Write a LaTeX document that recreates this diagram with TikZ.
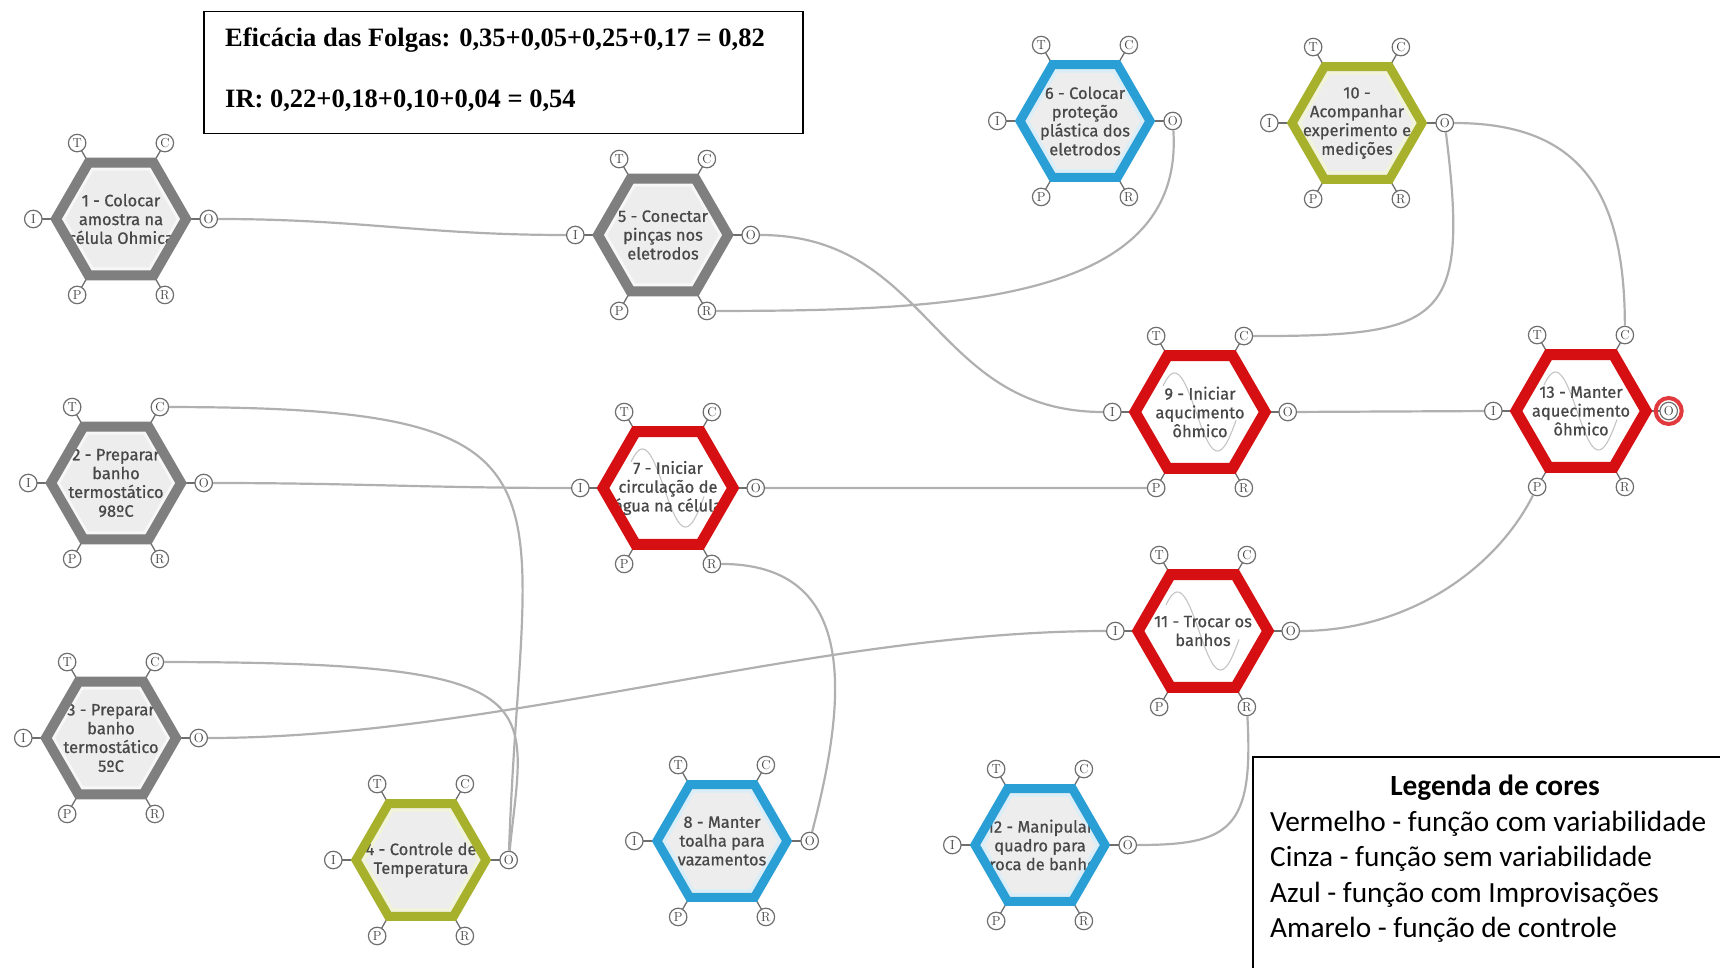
\documentclass[tikz,border=0pt]{standalone}
\usepackage{fontspec}
\newfontfamily\hexfont[FakeBold=0.7]{Fira Sans}
\newfontfamily\boxfont{Liberation Serif}
\newfontfamily\legendfont{Carlito}

\definecolor{cGrayLine}{HTML}{7F7F7F}
\definecolor{cGrayFill}{HTML}{EDEDED}
\definecolor{cGrayBand}{HTML}{F7F7F7}
\definecolor{cRedLine}{HTML}{D50F12}
\definecolor{cBlueLine}{HTML}{2A9FD6}
\definecolor{cBlueBand}{HTML}{D9EEF8}
\definecolor{cOliveLine}{HTML}{A8B12C}
\definecolor{cOliveBand}{HTML}{F2F4D8}
\definecolor{cConn}{HTML}{B0B0B0}
\definecolor{cText}{HTML}{484848}
\definecolor{cPort}{HTML}{6E6E6E}
\definecolor{cWave}{HTML}{C4C4C4}
\definecolor{cRing}{HTML}{E0393E}

\tikzset{
  gray-fill/.style={fill=cGrayFill},
  gray-band/.style={draw=cGrayBand, line width=3pt},
  gray-line/.style={draw=cGrayLine, line width=10pt, line join=miter},
  gray-wave/.style={},
  red-fill/.style={fill=white},
  red-band/.style={},
  red-line/.style={draw=cRedLine, line width=11pt, line join=miter},
  red-wave/.style={draw=cWave, line width=1.1pt},
  blue-fill/.style={fill=cGrayFill},
  blue-band/.style={draw=cBlueBand, line width=3pt},
  blue-line/.style={draw=cBlueLine, line width=9pt, line join=miter},
  blue-wave/.style={},
  olive-fill/.style={fill=cGrayFill},
  olive-band/.style={draw=cOliveBand, line width=3pt},
  olive-line/.style={draw=cOliveLine, line width=9pt, line join=miter},
  olive-wave/.style={},
  hextext/.style={align=center, inner sep=0pt, text=cText,
    font=\hexfont\fontsize{16.5}{18.8}\selectfont},
  portc/.style={circle, draw=cPort, fill=white, line width=1.2pt,
    minimum size=17.5pt, inner sep=0pt, text=black!75,
    font=\rmfamily\fontsize{13}{13}\selectfont},
  stubline/.style={draw=cPort, line width=1.3pt},
  conn/.style={draw=cConn, line width=2.2pt},
  boxtext/.style={anchor=west, inner sep=0pt,
    font=\boxfont\bfseries\fontsize{26.5}{30}\selectfont},
  legline/.style={anchor=west, inner sep=0pt,
    font=\legendfont\fontsize{29.3}{34}\selectfont},
}

% One function hexagon: name, x, y (pixels from top left), colour kind, label
\newcommand\fnhex[5]{%
  \begin{scope}[shift={(#2,-#3)}]
    \path[#4-fill] (0:65) -- (60:65) -- (120:65) -- (180:65) -- (240:65) -- (300:65) -- cycle;
    \path[#4-band] (0:57.5) -- (60:57.5) -- (120:57.5) -- (180:57.5) -- (240:57.5) -- (300:57.5) -- cycle;
    \path[#4-wave] plot[domain=-33:40, samples=60, smooth] ({\x-4}, {-39*sin(360*\x/86)});
    \node[hextext] (#1) at (0,0) {#5};
    \foreach \pa in {0,60,120,180,240,300} \draw[stubline] (\pa:66) -- (\pa:80);
    \path[#4-line] (0:65) -- (60:65) -- (120:65) -- (180:65) -- (240:65) -- (300:65) -- cycle;
    \foreach \pn/\pa in {O/0,C/60,T/120,I/180,P/240,R/300}
      \node[portc] (#1-\pn) at (\pa:87.7) {\pn};
  \end{scope}}

\begin{document}
\begin{tikzpicture}[x=1pt, y=1pt]
\useasboundingbox (0,0) rectangle (1720,-968);

% functions
\fnhex{h1}{121}{219}{gray}{1 - Colocar\\amostra na\\célula Ohmica}
\fnhex{h5}{663}{235}{gray}{5 - Conectar\\pinças nos\\eletrodos}
\fnhex{h6}{1085}{121}{blue}{6 - Colocar\\proteção\\plástica dos\\eletrodos}
\fnhex{h10}{1357}{123}{olive}{10 -\\Acompanhar\\experimento e\\medições}
\fnhex{h2}{116}{483}{gray}{2 - Preparar\\banho\\termostático\\98ºC}
\fnhex{h7}{668}{488}{red}{7 - Iniciar\\circulação de\\água na célula}
\fnhex{h9}{1200}{412}{red}{9 - Iniciar\\aqucimento\\ôhmico}
\fnhex{h13}{1581}{411}{red}{13 - Manter\\aquecimento\\ôhmico}
\fnhex{h11}{1203}{631}{red}{11 - Trocar os\\banhos}
\fnhex{h3}{111}{738}{gray}{3 - Preparar\\banho\\termostático\\5ºC}
\fnhex{h4}{421}{860}{olive}{4 - Controle de\\Temperatura}
\fnhex{h8}{722}{841}{blue}{8 - Manter\\toalha para\\vazamentos}
\fnhex{h12}{1040}{845}{blue}{12 - Manipular\\quadro para\\troca de banho}

% highlighted output
\draw[draw=cRing, line width=4pt] (h13-O) circle (13);

% couplings
\draw[conn] (h1-O) .. controls +(150,0) and +(-150,0) .. (h5-I);
\draw[conn] (h5-O) .. controls +(180,0) and +(-180,0) .. (h9-I);
\draw[conn] (h6-O) .. controls +(12,-179) and +(253,0) .. (h5-R);
\draw[conn] (h10-O) .. controls +(25,-200) and +(200,0) .. (h9-C);
\draw[conn] (h10-O) .. controls +(130,0) and +(0,150) .. (h13-C);
\draw[conn] (h9-O) -- (h13-I);
\draw[conn] (h2-O) .. controls +(150,0) and +(-150,0) .. (h7-I);
\draw[conn] (h7-O) -- (h9-P);
\draw[conn] (h2-C) .. controls +(440,0) and +(13,380) .. (h4-O);
\draw[conn] (h3-C) .. controls +(405,0) and +(16,160) .. (h4-O);
\draw[conn] (h3-O) .. controls +(300,0) and +(-300,0) .. (h11-I);
\draw[conn] (h7-R) .. controls +(148,0) and +(37,141) .. (h8-O);
\draw[conn] (h11-O) .. controls +(120,0) and +(-40,-80) .. (h13-P);
\draw[conn] (h11-R) .. controls +(7,-123) and +(102,0) .. (h12-O);

% indicator box
\node[draw, line width=1.5pt, anchor=north west, minimum width=599pt,
      minimum height=122pt, inner sep=0pt] (scorebox) at (203,-11) {};
\node[boxtext] (effic) at (225,-40) {Eficácia das Folgas: 0,35+0,05+0,25+0,17 = 0,82};
\node[boxtext] (irval) at (225,-101) {IR: 0,22+0,18+0,10+0,04 = 0,54};

% colour legend
\node[draw, line width=1.6pt, anchor=north west, minimum width=500pt,
      minimum height=240pt, inner sep=0pt] (legend) at (1252,-756) {};
\node[inner sep=0pt, font=\legendfont\bfseries\fontsize{29.3}{34}\selectfont]
      (legtitle) at (1495,-788) {Legenda de cores};
\node[legline] (leg1) at (1270,-824) {Vermelho - função com variabilidade};
\node[legline] (leg2) at (1270,-859) {Cinza - função sem variabilidade};
\node[legline] (leg3) at (1270,-895) {Azul - função com Improvisações};
\node[legline] (leg4) at (1270,-930) {Amarelo - função de controle};
\end{tikzpicture}
\end{document}
